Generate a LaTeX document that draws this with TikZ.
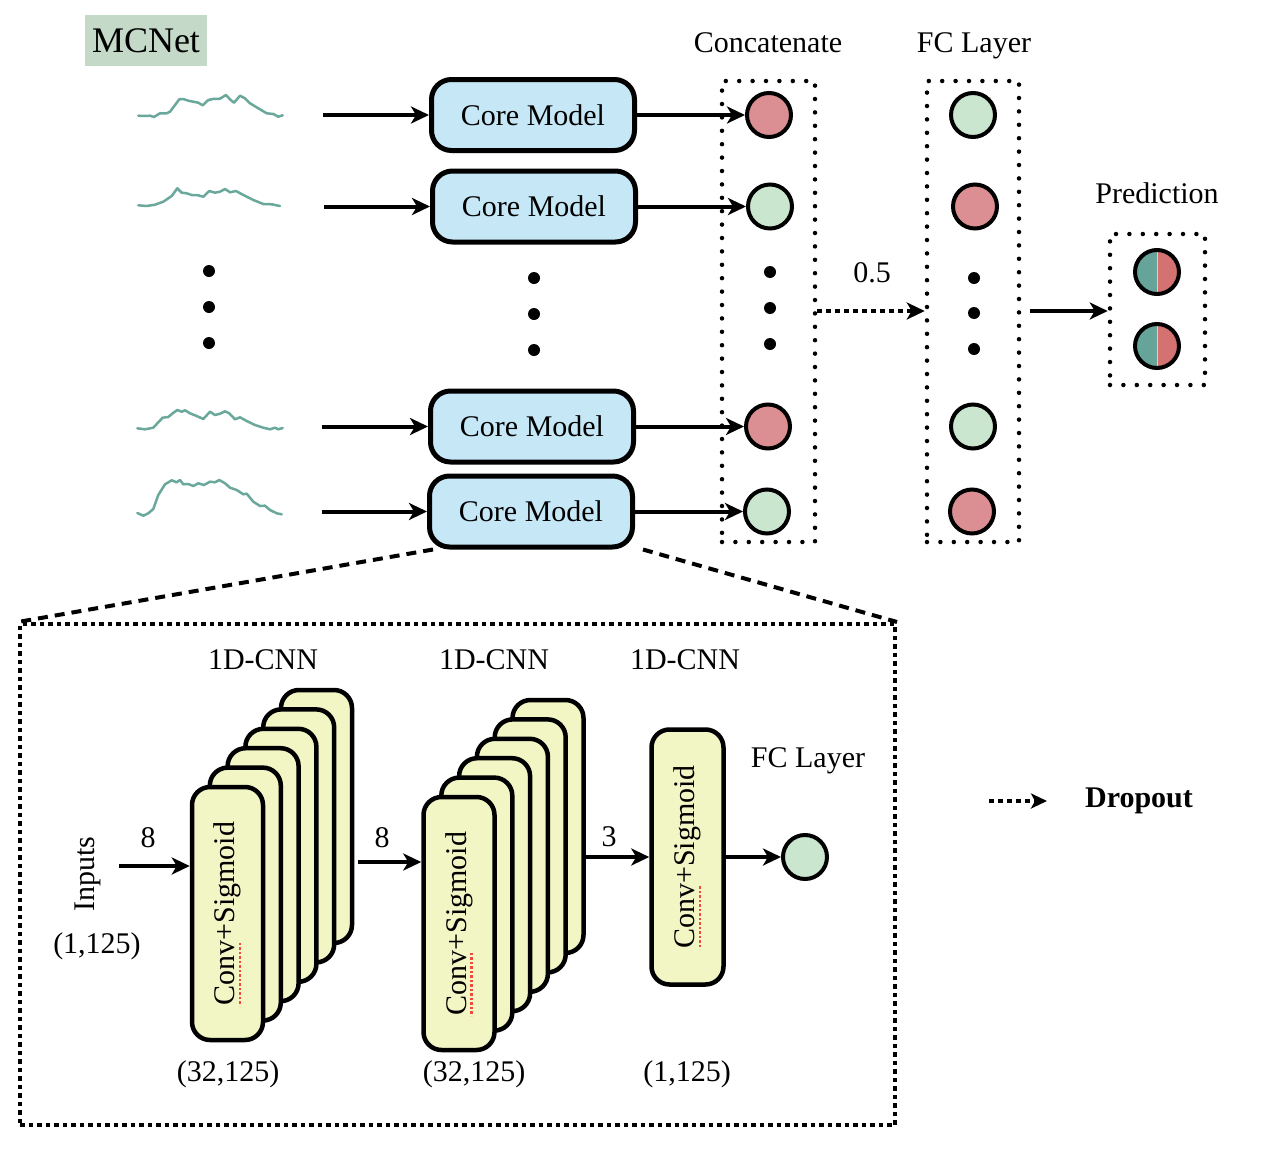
\documentclass[tikz,border=0pt]{standalone}
\usepackage{fontspec}
\setmainfont{Liberation Serif}
\usetikzlibrary{arrows.meta}

\definecolor{cmblue}{HTML}{C5E7F6}
\definecolor{cnnyel}{HTML}{F2F5C4}
\definecolor{nred}{HTML}{DB8F93}
\definecolor{ngreen}{HTML}{CBE6CF}
\definecolor{pteal}{HTML}{66A49A}
\definecolor{predc}{HTML}{D47171}
\definecolor{sigc}{HTML}{6AA89B}
\definecolor{mcbg}{HTML}{C4D9C8}
\definecolor{ulred}{HTML}{EE4B3E}

\tikzset{
 lbl/.style={font=\fontsize{30}{35}\selectfont, inner sep=0pt},
 core/.style={draw, line width=5pt, fill=cmblue, rounded corners=20pt, minimum width=203pt, minimum height=71pt, inner sep=0pt, font=\fontsize{30}{35}\selectfont},
 cnn/.style={draw, line width=4.5pt, fill=cnnyel, rounded corners=18pt, minimum width=71pt, minimum height=253pt, inner sep=0pt},
 neuron/.style={draw, circle, line width=4pt, minimum size=44pt, inner sep=0pt},
 pneuron/.style={draw, circle, line width=4pt, minimum size=44pt, inner sep=0pt,
   path picture={\fill[pteal] (path picture bounding box.south west) rectangle (path picture bounding box.north);
                 \fill[predc] (path picture bounding box.south) rectangle (path picture bounding box.north east);
                 \draw[line width=1pt, white!60!pteal] (path picture bounding box.south) -- (path picture bounding box.north);}},
 dotbox/.style={draw, line width=4.5pt, line cap=round, dash pattern=on 0pt off 13.4pt, inner sep=0pt},
 sqbox/.style={draw, line width=4pt, dash pattern=on 4.5pt off 4pt, inner sep=0pt},
 arr/.style={line width=4pt, -{Stealth[length=18pt,width=17pt,inset=5pt]}},
 darr/.style={line width=4.5pt, dash pattern=on 5pt off 4pt, -{Stealth[length=18pt,width=17pt,inset=5pt]}},
 dotn/.style={circle, fill=black, minimum size=12pt, inner sep=0pt},
 signal/.style={sigc, line width=2.5pt, line join=round, line cap=round},
 zoomline/.style={line width=4pt, dash pattern=on 10pt off 7pt},
 redul/.style={ulred, line width=2.6pt, dash pattern=on 2.5pt off 2pt},
}

\begin{document}
\begin{tikzpicture}[x=1pt,y=-1pt]
\useasboundingbox (0,0) rectangle (1270,1154);
\fill[white] (0,0) rectangle (1270,1154);

% title
\node[fill=mcbg, minimum width=122pt, minimum height=51pt, inner sep=0pt, font=\fontsize{36}{40}\selectfont] (title) at (146,40.5) {MCNet};

% signals
\draw[signal] (138.3,115.7) -- (145,116) -- (150,115.7) -- (154,117) -- (160,113.3) -- (166.7,113.3) -- (170,111.7) -- (175,105) -- (179.3,99.3) -- (183.3,99) -- (188.3,100.7) -- (193.3,101.7) -- (198.3,102.7) -- (202.7,105.3) -- (208.3,100) -- (213.3,99) -- (220,98.7) -- (226,95) -- (230,99.3) -- (234,102.7) -- (240,95.7) -- (245,98.3) -- (250,103.3) -- (258.3,108.3) -- (266.7,113.3) -- (273.3,114) -- (278.3,116.7) -- (282.7,115.3);
\draw[signal] (138.3,205.3) -- (146.7,206) -- (155,204.7) -- (163.3,201.7) -- (171.7,196) -- (177.3,188.3) -- (181.7,192.7) -- (186.7,193.3) -- (191.7,195) -- (196.7,195) -- (203.3,196.7) -- (209.3,191) -- (215,192.7) -- (220,191.7) -- (225,189) -- (230,192.3) -- (236,191) -- (243.3,195) -- (253.3,200) -- (263.3,204) -- (271.7,204.3) -- (280,206);
\draw[signal] (137.3,428.3) -- (145,429.3) -- (153.3,427.7) -- (158.3,422.3) -- (162.7,417.7) -- (168.3,417) -- (172.7,413.3) -- (177.3,410) -- (181.7,411.7) -- (185,410.3) -- (190,413.3) -- (196.7,416) -- (203.3,419) -- (210,411.7) -- (215,415) -- (220,413.7) -- (225,411.3) -- (229.3,413.3) -- (235,419.3) -- (240,417.3) -- (246.7,421) -- (255,425) -- (263.3,427.7) -- (270,429.3) -- (275,427.7) -- (278.3,429.3) -- (282.7,428);
\draw[signal] (137.3,513) -- (143.3,515.7) -- (148.3,513.3) -- (153.3,509) -- (158.3,495) -- (165,484.3) -- (171.7,480.3) -- (176.7,482.3) -- (180,480) -- (183.3,484.3) -- (188.3,484) -- (193.3,486) -- (198.3,483.3) -- (204,485) -- (210,481.7) -- (215,482.3) -- (219.3,480) -- (225,483.3) -- (230,487.7) -- (236.7,490) -- (243.3,494.3) -- (246.7,493.7) -- (253.3,501.7) -- (260,506) -- (265,505.7) -- (270,510) -- (276.7,513.3) -- (281.7,514.3);

% left dots
\node[dotn] (ld1) at (209,271) {};
\node[dotn] (ld2) at (209,307) {};
\node[dotn] (ld3) at (209,343) {};

% core models
\node[core] (cm1) at (533,115) {Core Model};
\node[core] (cm2) at (534,206.5) {Core Model};
\node[core] (cm3) at (532,426.5) {Core Model};
\node[core] (cm4) at (531,511.5) {Core Model};
\node[dotn] (md1) at (534,278) {};
\node[dotn] (md2) at (534,314) {};
\node[dotn] (md3) at (534,350) {};

% input arrows
\coordinate (a1) at (323,115);
\coordinate (a2) at (324,206.5);
\coordinate (a3) at (322,426.5);
\coordinate (a4) at (322,511.5);
\draw[arr] (a1) -- (cm1.west);
\draw[arr] (a2) -- (cm2.west);
\draw[arr] (a3) -- (cm3.west);
\draw[arr] (a4) -- (cm4.west);

% concatenate
\node[dotbox, minimum width=93pt, minimum height=461pt] (cat) at (768.5,311.5) {};
\node[lbl, anchor=base] (catl) at (768,52) {Concatenate};
\node[neuron, fill=nred] (c1) at (769,115) {};
\node[neuron, fill=ngreen] (c2) at (770,206.5) {};
\node[neuron, fill=nred] (c3) at (768,426.5) {};
\node[neuron, fill=ngreen] (c4) at (767,511.5) {};
\node[dotn] (cd1) at (770,272) {};
\node[dotn] (cd2) at (770,308) {};
\node[dotn] (cd3) at (770,344) {};
\draw[arr] (cm1.east) -- (c1.west);
\draw[arr] (cm2.east) -- (c2.west);
\draw[arr] (cm3.east) -- (c3.west);
\draw[arr] (cm4.east) -- (c4.west);

% FC layer
\node[dotbox, minimum width=92pt, minimum height=461pt] (fc) at (973,311.5) {};
\node[lbl, anchor=base] (fcl) at (974,52) {FC Layer};
\node[neuron, fill=ngreen] (f1) at (973,115) {};
\node[neuron, fill=nred] (f2) at (975,206.5) {};
\node[neuron, fill=ngreen] (f3) at (973,426.5) {};
\node[neuron, fill=nred] (f4) at (972,511.5) {};
\node[dotn] (fd1) at (974,278) {};
\node[dotn] (fd2) at (974,313) {};
\node[dotn] (fd3) at (974,349) {};

\draw[darr] (cat.east |- 0,311) -- (fc.west |- 0,311);
\node[lbl] (drop) at (872,273) {0.5};

% prediction
\node[dotbox, minimum width=95pt, minimum height=151pt] (pr) at (1157.5,309.5) {};
\node[lbl] (prl) at (1157,193) {Prediction};
\node[pneuron] (p1) at (1157,272) {};
\node[pneuron] (p2) at (1157,346) {};
\draw[arr, shorten <=9pt] (fc.east |- 0,311) -- (pr.west |- 0,311);

% zoom-in box
\node[sqbox, minimum width=875pt, minimum height=501pt] (big) at (457.5,874.5) {};
\draw[zoomline] ([xshift=6pt]cm4.south west) -- (big.north west);
\draw[zoomline] ([xshift=8pt]cm4.south east) -- (big.north east);

% stack 1
\foreach \k in {5,4,3,2,1} {
  \node[cnn] (st1-\k) at ({227.5+17.8*\k},{913.5-19.4*\k}) {};
}
\node[cnn] (st1f) at (227.5,913.5) {};
\node[lbl, rotate=90] (t1) at (st1f.center) {Conv+Sigmoid};
\draw[redul] ([shift={(12.5,29)}]st1f.center) -- ([shift={(12.5,92)}]st1f.center);

% stack 2
\foreach \k in {5,4,3,2,1} {
  \node[cnn] (st2-\k) at ({459+17.8*\k},{923.5-19.4*\k}) {};
}
\node[cnn] (st2f) at (459,923.5) {};
\node[lbl, rotate=90] (t2) at (st2f.center) {Conv+Sigmoid};
\draw[redul] ([shift={(12.5,29)}]st2f.center) -- ([shift={(12.5,92)}]st2f.center);

% single
\node[cnn, minimum height=255pt, minimum width=72pt] (one) at (687.5,857) {};
\node[lbl, rotate=90] (t3) at (one.center) {Conv+Sigmoid};
\draw[redul] ([shift={(12.5,29)}]one.center) -- ([shift={(12.5,92)}]one.center);

\node[neuron, fill=ngreen] (fco) at (805,857) {};

% inner arrows
\coordinate (x1) at (119,866);
\coordinate (x2) at (358,862);
\draw[arr] (x1) -- (x1 -| st1f.west);
\draw[arr] (x2) -- (x2 -| st2f.west);
\draw[arr] (st2-5.east |- one.west) -- (one.west);
\draw[arr] (one.east) -- (fco.west);

% inner labels
\node[lbl] (n1) at (148,838) {8};
\node[lbl] (n2) at (382,838) {8};
\node[lbl] (n3) at (609,837) {3};
\node[lbl, rotate=90] (inp) at (88,874) {Inputs};
\node[lbl] (inps) at (97,946) {(1,125)};
\node[lbl] (s1) at (228,1074) {(32,125)};
\node[lbl] (s2) at (474,1074) {(32,125)};
\node[lbl] (s3) at (687,1074) {(1,125)};
\node[lbl] (h1) at (263,660) {1D-CNN};
\node[lbl] (h2) at (494,660) {1D-CNN};
\node[lbl] (h3) at (685,660) {1D-CNN};
\node[lbl, anchor=base] (fcl2) at (808,767) {FC Layer};

% legend
\coordinate (lg1) at (989,801);
\coordinate (lg2) at (1047,801);
\draw[darr, -{Stealth[length=16pt,width=15pt,inset=4pt]}] (lg1) -- (lg2);
\node[lbl, font=\fontsize{30}{35}\selectfont\bfseries] (lgt) at (1139,801) {Dropout};
\end{tikzpicture}
\end{document}
